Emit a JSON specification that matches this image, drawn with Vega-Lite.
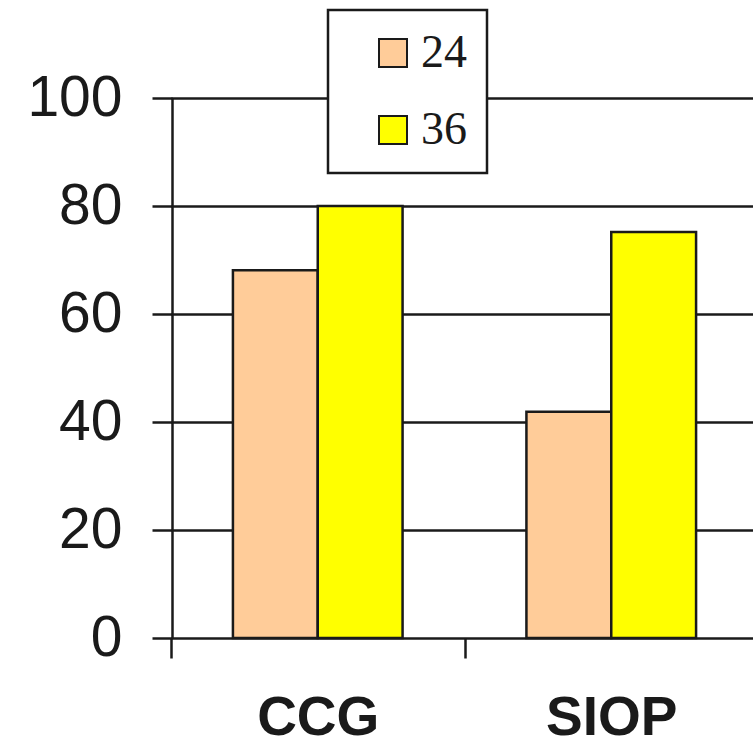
{
  "$schema": "https://vega.github.io/schema/vega-lite/v6.json",
  "autosize": {"type": "none"},
  "padding": {"left": 172, "top": 98, "right": 0, "bottom": 108},
  "width": 581,
  "height": 540,
  "background": "white",
  "data": {"values": [
    {"group": "CCG", "month": "24", "value": 68.1},
    {"group": "CCG", "month": "36", "value": 80.0},
    {"group": "SIOP", "month": "24", "value": 41.9},
    {"group": "SIOP", "month": "36", "value": 75.2}
  ]},
  "mark": {"type": "bar", "stroke": "#1a1a1a", "strokeWidth": 2.5},
  "encoding": {
    "x": {
      "field": "group", "type": "nominal", "sort": ["CCG", "SIOP"],
      "scale": {"range": [-1, 586], "paddingInner": 0, "paddingOuter": 0},
      "axis": {
        "title": null, "domain": false, "grid": false, "ticks": true, "tickBand": "extent",
        "tickSize": 20, "tickWidth": 2.5, "tickColor": "#1a1a1a",
        "labelFont": "Liberation Sans", "labelFontSize": 55, "labelFontWeight": "bold",
        "labelColor": "#1a1a1a", "labelPadding": 33, "labelAngle": 0
      }
    },
    "xOffset": {
      "field": "month", "type": "nominal", "sort": ["24", "36"],
      "scale": {"paddingInner": 0, "paddingOuter": 0.73}
    },
    "y": {
      "field": "value", "type": "quantitative",
      "scale": {"domain": [0, 100], "nice": false},
      "axis": {
        "title": null, "values": [0, 20, 40, 60, 80, 100],
        "grid": true, "gridColor": "#1a1a1a", "gridWidth": 2.5, "gridOpacity": 1,
        "domain": true, "domainColor": "#1a1a1a", "domainWidth": 2.5,
        "tickSize": 20, "tickWidth": 2.5, "tickColor": "#1a1a1a",
        "labelFont": "Liberation Sans", "labelFontSize": 57, "labelColor": "#1a1a1a",
        "labelPadding": 30
      }
    },
    "color": {
      "field": "month", "type": "nominal",
      "scale": {"domain": ["24", "36"], "range": ["#FFCC99", "#FFFF00"]},
      "legend": {
        "title": null, "orient": "none", "legendX": 156, "legendY": -88,
        "fillColor": "white", "strokeColor": "#1a1a1a",
        "padding": 20, "symbolOffset": 22, "rowPadding": 31,
        "symbolType": "square", "symbolSize": 784,
        "symbolStrokeColor": "#1a1a1a", "symbolStrokeWidth": 2,
        "labelFont": "Liberation Serif", "labelFontSize": 46, "labelColor": "#1a1a1a",
        "labelOffset": 5,
        "encode": {"legend": {"update": {"strokeWidth": {"value": 2.5}}}}
      }
    }
  },
  "config": {"view": {"stroke": null}}
}
